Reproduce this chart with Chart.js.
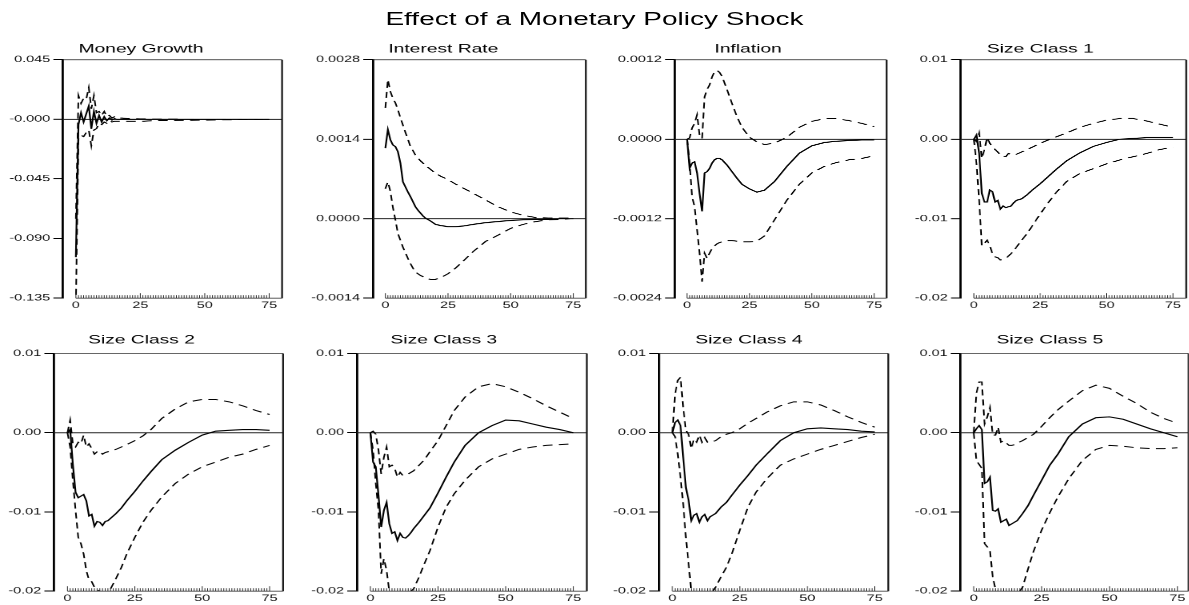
<!DOCTYPE html>
<html>
<head>
<meta charset="utf-8">
<title>Effect of a Monetary Policy Shock</title>
<script src="https://cdn.jsdelivr.net/npm/chart.js@4.4.0/dist/chart.umd.min.js"></script>
<style>
  html, body { margin: 0; padding: 0; background: #fff; overflow: hidden; }
  /* the original figure is stretched sideways, so the whole page is drawn narrow and widened */
  #page { position: absolute; left: 0; top: 0; width: 743.125px; height: 605px;
          transform: scaleX(1.6); transform-origin: 0 0; }
  #mainTitle { position: absolute; left: 0; top: 9px; width: 100%; text-align: center;
               font: 17.5px "Liberation Sans", Arial, sans-serif; line-height: 21px; color: #000; }
  .panel { position: absolute; }
</style>
</head>
<body>
<div id="page"><div id="mainTitle">Effect of a Monetary Policy Shock</div></div>

<script>
// --- horizons (periods after the shock) and x tick labels ---
const horizons = [0,1,2,3,4,5,6,7,8,9,10,11,12,13,14,15,16,18,20,22,25,28,31,35,40,45,50,55,60,65,70,75];
const xTicks = [0, 25, 50, 75];

// --- Money Growth ---
const moneyIrf = [-0.104,-0.004,0.005,-0.002,0.004,0.010,-0.007,0.006,-0.003,0.003,-0.002,0.002,-0.001,0.001,-0.0005,0.0005,
                  0,0,0,0,0,0,0,0,0,0,0,0,0,0,0,0];
const moneyUp  = [-0.075,0.018,0.012,0.016,0.015,0.024,0.008,0.018,0.005,0.006,0.003,0.006,0.002,0.003,0.001,0.002,
                  0.001,0.001,0.0005,0.0005,0.0003,0.0003,0.0002,0.0002,0.0002,0.0001,0.0001,0.0001,0.0001,0,0,0];
const moneyLo  = [-0.14,-0.015,-0.012,-0.013,-0.010,-0.008,-0.020,-0.008,-0.007,-0.003,-0.004,-0.002,-0.003,-0.001,-0.002,-0.0015,
                  -0.0015,-0.0015,-0.0015,-0.0015,-0.0015,-0.0012,-0.001,-0.001,-0.0008,-0.0006,-0.0005,-0.0004,-0.0003,-0.0002,-0.0002,-0.0001];
const moneyTicks = [-0.135, -0.09, -0.045, 0, 0.045];
const moneyTickLabels = ['-0.135', '-0.090', '-0.045', '-0.000', '0.045'];

// --- Interest Rate ---
const rateIrf = [0.00124,0.00157,0.00139,0.0013,0.00127,0.00118,0.00098,0.00065,0.00056,0.00047,0.00039,0.0003,0.00021,0.00015,0.0001,0.00005,
                 0.00001,-0.00004,-0.0001,-0.00012,-0.00014,-0.00014,-0.00013,-0.0001,-0.00007,-0.00005,-0.00003,-0.00002,-0.00001,-0.00001,0,0];
const rateUp  = [0.00195,0.00245,0.00224,0.00212,0.00204,0.00192,0.00178,0.00165,0.00152,0.0014,0.00127,0.0012,0.00112,0.00107,0.00102,0.00098,
                 0.00094,0.00087,0.0008,0.00075,0.00069,0.00061,0.00054,0.00045,0.00033,0.00021,0.00012,0.00006,0.00002,0.00001,0.00001,0.00001];
const rateLo  = [0.00053,0.00065,0.00048,0.0002,-0.00002,-0.00026,-0.00038,-0.0005,-0.0006,-0.0007,-0.00079,-0.00087,-0.00094,-0.00097,-0.001,-0.00102,
                 -0.00105,-0.00107,-0.00107,-0.00104,-0.00097,-0.00087,-0.00075,-0.00058,-0.0004,-0.00029,-0.00017,-0.0001,-0.00005,-0.00002,-0.00001,0];
const rateTicks = [-0.0014, 0, 0.0014, 0.0028];
const rateTickLabels = ['-0.0014', '0.0000', '0.0014', '0.0028'];

// --- Inflation ---
const inflIrf = [0,-0.00044,-0.00036,-0.00034,-0.00051,-0.00082,-0.00109,-0.00051,-0.00049,-0.00044,-0.00036,-0.00031,-0.00029,-0.00029,-0.00031,-0.00035,
                 -0.00039,-0.00049,-0.00059,-0.00068,-0.00075,-0.0008,-0.00077,-0.00064,-0.00041,-0.00021,-0.0001,-0.00005,-0.00003,-0.00002,-0.00001,-0.00001];
const inflUp  = [0,0.00002,0.00017,0.00024,0.00037,0.00006,0.00001,0.00064,0.00075,0.00082,0.00094,0.00102,0.00104,0.00101,0.00095,0.00085,
                 0.00075,0.00054,0.00034,0.00018,0.00003,-0.00004,-0.00008,-0.00006,0.00003,0.00018,0.00027,0.00031,0.00031,0.00028,0.00024,0.00019];
const inflLo  = [0,-0.00036,-0.00087,-0.00102,-0.00137,-0.00172,-0.00215,-0.00172,-0.0018,-0.00172,-0.00165,-0.00161,-0.00158,-0.00156,-0.00155,-0.00154,
                 -0.00153,-0.00153,-0.00154,-0.00155,-0.00155,-0.00154,-0.00146,-0.00122,-0.00092,-0.00068,-0.00051,-0.00041,-0.00035,-0.00031,-0.00029,-0.00025];
const inflTicks = [-0.0024, -0.0012, 0, 0.0012];
const inflTickLabels = ['-0.0024', '-0.0012', '0.0000', '0.0012'];

// --- Size classes 1 to 5 (same y axis) ---
const sizeTicks = [-0.02, -0.01, 0, 0.01];
const sizeTickLabels = ['-0.02', '-0.01', '0.00', '0.01'];

const size1Irf = [0,0.00055,-0.0018,-0.0068,-0.0079,-0.0079,-0.0064,-0.0066,-0.0079,-0.0077,-0.0088,-0.0084,-0.0086,-0.0085,-0.0084,-0.008,
                  -0.0077,-0.0075,-0.007,-0.0064,-0.0056,-0.0047,-0.0038,-0.0027,-0.0017,-0.0009,-0.0004,0,0.0001,0.0002,0.0002,0.0002];
const size1Up  = [0,-0.0003,0.0008,-0.0024,-0.0013,0.0002,-0.0005,-0.001,-0.0013,-0.0016,-0.002,-0.0021,-0.0022,-0.0018,-0.0019,-0.002,
                  -0.0019,-0.0016,-0.0013,-0.001,-0.0005,-0.0001,0.0003,0.0008,0.0015,0.002,0.0024,0.0026,0.0026,0.0023,0.0019,0.0015];
const size1Lo  = [0,-0.0031,-0.0077,-0.0134,-0.0131,-0.0127,-0.0134,-0.0144,-0.0148,-0.0149,-0.0152,-0.0151,-0.015,-0.0147,-0.0144,-0.014,
                  -0.0136,-0.0127,-0.0119,-0.0109,-0.0094,-0.008,-0.0067,-0.0053,-0.0043,-0.0037,-0.0031,-0.0026,-0.0022,-0.0018,-0.0013,-0.001];

const size2Irf = [0,0.0004,-0.004,-0.0075,-0.0082,-0.008,-0.0078,-0.0086,-0.0105,-0.0103,-0.0118,-0.0112,-0.0113,-0.0117,-0.0112,-0.0111,
                  -0.0108,-0.0102,-0.0095,-0.0086,-0.0074,-0.0061,-0.0049,-0.0034,-0.0022,-0.0012,-0.0003,0.0002,0.0003,0.0004,0.0004,0.0003];
const size2Up  = [0,0.0016,-0.0014,-0.0018,-0.0012,-0.0014,-0.0003,-0.0018,-0.0014,-0.002,-0.0027,-0.0024,-0.0023,-0.0027,-0.0025,-0.0024,
                  -0.0023,-0.0021,-0.0018,-0.0015,-0.001,-0.0004,0.0004,0.0018,0.003,0.0039,0.0042,0.0042,0.0039,0.0034,0.0028,0.0023];
const size2Lo  = [0,-0.0018,-0.006,-0.0098,-0.0132,-0.014,-0.0153,-0.0174,-0.0186,-0.0188,-0.0195,-0.0198,-0.02,-0.0201,-0.0201,-0.02,
                  -0.0197,-0.0184,-0.017,-0.0153,-0.0132,-0.0113,-0.0098,-0.0081,-0.0064,-0.0052,-0.0043,-0.0037,-0.0031,-0.0027,-0.0021,-0.0016];

const size3Irf = [0,-0.0037,-0.0043,-0.0079,-0.0119,-0.0098,-0.0088,-0.0115,-0.0127,-0.0125,-0.0136,-0.0127,-0.0132,-0.0133,-0.013,-0.0126,
                  -0.0121,-0.0113,-0.0104,-0.0095,-0.0076,-0.0056,-0.0037,-0.0016,0,0.0009,0.0016,0.0015,0.0011,0.0007,0.0004,0];
const size3Up  = [0,0.0002,-0.0002,-0.0022,-0.0052,-0.0031,-0.0018,-0.0043,-0.0041,-0.0045,-0.0056,-0.005,-0.0054,-0.0053,-0.0052,-0.005,
                  -0.0048,-0.0041,-0.0034,-0.0024,-0.001,0.0009,0.0028,0.0045,0.0058,0.0062,0.0058,0.0051,0.0043,0.0034,0.0026,0.0018];
const size3Lo  = [0,-0.0022,-0.0064,-0.0098,-0.0178,-0.0159,-0.0174,-0.02,-0.0203,-0.0207,-0.021,-0.021,-0.021,-0.0207,-0.0203,-0.02,
                  -0.0197,-0.0182,-0.0165,-0.0149,-0.0119,-0.0094,-0.0077,-0.006,-0.0043,-0.0033,-0.0027,-0.0021,-0.0018,-0.0016,-0.0015,-0.0014];

const size4Irf = [0,0.0013,0.0016,0.0009,-0.0031,-0.0069,-0.0085,-0.0111,-0.0104,-0.0102,-0.0113,-0.0106,-0.0103,-0.0111,-0.0106,-0.0104,
                  -0.0102,-0.0094,-0.0088,-0.0079,-0.0066,-0.0054,-0.0041,-0.0027,-0.001,0,0.0005,0.0006,0.0005,0.0004,0.0002,0.0001];
const size4Up  = [0,0.0049,0.0066,0.007,0.0032,0.0003,-0.0002,-0.002,-0.0008,-0.0012,-0.0003,-0.0012,-0.0006,-0.0012,-0.0011,-0.0011,
                  -0.001,-0.0005,-0.0002,0,0.0005,0.0012,0.0018,0.0026,0.0034,0.0039,0.0039,0.0035,0.0028,0.002,0.0013,0.0007];
const size4Lo  = [0,-0.0005,-0.0027,-0.0056,-0.009,-0.0132,-0.0165,-0.02,-0.0207,-0.0209,-0.021,-0.0209,-0.0207,-0.0205,-0.0203,-0.02,
                  -0.0195,-0.0182,-0.017,-0.0153,-0.0123,-0.0094,-0.0075,-0.0058,-0.0041,-0.0033,-0.0027,-0.0021,-0.0016,-0.0011,-0.0006,-0.0002];

const size5Irf = [0,0.0005,0.0009,0.0004,-0.0064,-0.0062,-0.0056,-0.0098,-0.0099,-0.0096,-0.0113,-0.0111,-0.0109,-0.0117,-0.0115,-0.0113,
                  -0.0111,-0.0102,-0.0092,-0.0079,-0.006,-0.0041,-0.0027,-0.0005,0.0011,0.0019,0.002,0.0017,0.0011,0.0005,0,-0.0005];
const size5Up  = [0,0.005,0.0064,0.0064,0.0011,0.002,0.0032,-0.0003,-0.0003,0.0007,-0.0012,-0.001,-0.0013,-0.0016,-0.0016,-0.0015,
                  -0.0013,-0.001,-0.0006,-0.0002,0.0008,0.0019,0.0029,0.004,0.0053,0.006,0.0056,0.0046,0.0037,0.0026,0.0018,0.0012];
const size5Lo  = [0,-0.0035,-0.004,-0.0045,-0.014,-0.0144,-0.0149,-0.0182,-0.0197,-0.0201,-0.0205,-0.0207,-0.0207,-0.0207,-0.0207,-0.0206,
                  -0.0205,-0.0195,-0.0172,-0.015,-0.0123,-0.0101,-0.0081,-0.0058,-0.0035,-0.0021,-0.0016,-0.0017,-0.0019,-0.002,-0.002,-0.0019];

// --- panels: data, then where each one sits on the page (page pixels) ---
const panels = [
  { title: 'Money Growth',  irf: moneyIrf, up: moneyUp, lo: moneyLo, ticks: moneyTicks, labels: moneyTickLabels },
  { title: 'Interest Rate', irf: rateIrf,  up: rateUp,  lo: rateLo,  ticks: rateTicks,  labels: rateTickLabels },
  { title: 'Inflation',     irf: inflIrf,  up: inflUp,  lo: inflLo,  ticks: inflTicks,  labels: inflTickLabels },
  { title: 'Size Class 1',  irf: size1Irf, up: size1Up, lo: size1Lo, ticks: sizeTicks,  labels: sizeTickLabels },
  { title: 'Size Class 2',  irf: size2Irf, up: size2Up, lo: size2Lo, ticks: sizeTicks,  labels: sizeTickLabels },
  { title: 'Size Class 3',  irf: size3Irf, up: size3Up, lo: size3Lo, ticks: sizeTicks,  labels: sizeTickLabels },
  { title: 'Size Class 4',  irf: size4Irf, up: size4Up, lo: size4Lo, ticks: sizeTicks,  labels: sizeTickLabels },
  { title: 'Size Class 5',  irf: size5Irf, up: size5Up, lo: size5Lo, ticks: sizeTicks,  labels: sizeTickLabels }
];

// cl/cr = canvas edges, pl/pr = plot edges, tc = title centre, pt/pb = plot top/bottom
const boxes = [
  { cl: 0,   cr: 290,  pl: 63,  pr: 282,  tc: 49.5, pt: 60,    pb: 298 },
  { cl: 300, cr: 596,  pl: 372, pr: 585,  tc: 49.5, pt: 60,    pb: 298 },
  { cl: 610, cr: 890,  pl: 675, pr: 887,  tc: 49.5, pt: 60,    pb: 298 },
  { cl: 895, cr: 1187, pl: 961, pr: 1186, tc: 49.5, pt: 60,    pb: 298 },
  { cl: 0,   cr: 290,  pl: 54,  pr: 283,  tc: 340,  pt: 353.3, pb: 591 },
  { cl: 300, cr: 596,  pl: 356, pr: 586,  tc: 340,  pt: 353.3, pb: 591 },
  { cl: 610, cr: 892,  pl: 659, pr: 887,  tc: 340,  pt: 353.3, pb: 591 },
  { cl: 910, cr: 1189, pl: 960, pr: 1189, tc: 340,  pt: 353.3, pb: 591, xMin: -4.9, xMax: 79.1 }
];

const STRETCH = 1.6;
const FONT = '"Liberation Sans", Arial, sans-serif';
const X_AXIS_H = 16;
const TITLE_SIZE = 12;

Chart.defaults.font.family = FONT;
Chart.defaults.color = '#000';
Chart.defaults.animation = false;

// zero line, outer frame and the comb of small x ticks
const framePlugin = {
  id: 'frame',
  beforeDatasetsDraw(chart) {
    const { ctx, chartArea: a, scales: { y } } = chart;
    const y0 = y.getPixelForValue(0);
    ctx.save();
    ctx.strokeStyle = '#222';
    ctx.lineWidth = 1;
    ctx.beginPath();
    ctx.moveTo(a.left, y0);
    ctx.lineTo(a.right, y0);
    ctx.stroke();
    ctx.restore();
  },
  afterDatasetsDraw(chart) {
    const { ctx, chartArea: a, scales: { x } } = chart;
    ctx.save();
    // top
    ctx.strokeStyle = '#333';
    ctx.lineWidth = 0.8;
    ctx.beginPath();
    ctx.moveTo(a.left, a.top);
    ctx.lineTo(a.right, a.top);
    ctx.stroke();
    // right
    ctx.strokeStyle = '#111';
    ctx.lineWidth = 1.1;
    ctx.beginPath();
    ctx.moveTo(a.right, a.top);
    ctx.lineTo(a.right, a.bottom);
    ctx.stroke();
    // bottom, starting at the first x tick
    const first = xTicks[0], last = xTicks[xTicks.length - 1];
    ctx.strokeStyle = '#444';
    ctx.lineWidth = 0.8;
    ctx.beginPath();
    ctx.moveTo(x.getPixelForValue(first), a.bottom);
    ctx.lineTo(a.right, a.bottom);
    ctx.stroke();
    // inward minor ticks, one per period
    ctx.strokeStyle = '#222';
    ctx.lineWidth = 0.5;
    ctx.beginPath();
    for (let h = first; h <= last; h++) {
      const px = x.getPixelForValue(h);
      const len = xTicks.includes(h) ? 5 : 3;
      ctx.moveTo(px, a.bottom);
      ctx.lineTo(px, a.bottom - len);
    }
    ctx.stroke();
    ctx.restore();
  }
};

const toPoints = vals => vals.map((v, i) => ({ x: horizons[i], y: v }));

const page = document.getElementById('page');

panels.forEach((p, i) => {
  const box = boxes[i];
  const titleLine = TITLE_SIZE * 1.2;
  const padTop = 4;
  const top = box.tc - padTop - titleLine / 2;
  const padBottom = box.pt - top - padTop - titleLine;

  const holder = document.createElement('div');
  holder.className = 'panel';
  holder.style.left = (box.cl / STRETCH) + 'px';
  holder.style.top = top + 'px';
  holder.style.width = ((box.cr - box.cl) / STRETCH) + 'px';
  holder.style.height = (box.pb - top + X_AXIS_H) + 'px';
  const canvas = document.createElement('canvas');
  holder.appendChild(canvas);
  page.appendChild(holder);

  const yAxisWidth = (box.pl - box.cl) / STRETCH;

  new Chart(canvas, {
    type: 'line',
    data: {
      datasets: [
        { data: toPoints(p.up), borderColor: '#000', borderWidth: 1, borderDash: [6, 4] },
        { data: toPoints(p.lo), borderColor: '#000', borderWidth: 1, borderDash: [6, 4] },
        { data: toPoints(p.irf), borderColor: '#000', borderWidth: 1.1 }
      ]
    },
    options: {
      responsive: true,
      maintainAspectRatio: false,
      devicePixelRatio: 2,
      events: [],
      elements: { point: { radius: 0 }, line: { tension: 0 } },
      layout: { padding: { left: 0, right: (box.cr - box.pr) / STRETCH, top: 0, bottom: 0 } },
      plugins: {
        legend: { display: false },
        tooltip: { enabled: false },
        title: {
          display: true,
          text: p.title,
          color: '#000',
          font: { size: TITLE_SIZE, weight: 'normal', family: FONT, lineHeight: 1.2 },
          padding: { top: padTop, bottom: padBottom }
        }
      },
      scales: {
        x: {
          type: 'linear',
          min: box.xMin ?? -5,
          max: box.xMax ?? 80,
          afterBuildTicks: s => { s.ticks = xTicks.map(v => ({ value: v })); },
          afterFit: s => { s.height = X_AXIS_H; },
          grid: { display: false, drawTicks: false },
          border: { display: false },
          ticks: { font: { size: 9 }, color: '#111', padding: 2, maxRotation: 0, autoSkip: false,
                   callback: v => String(v) }
        },
        y: {
          min: p.ticks[0],
          max: p.ticks[p.ticks.length - 1],
          afterBuildTicks: s => { s.ticks = p.ticks.map(v => ({ value: v })); },
          afterFit: s => { s.width = yAxisWidth; },
          grid: { drawOnChartArea: false, drawTicks: true, tickLength: 6, color: '#000', lineWidth: 1 },
          border: { display: true, color: '#000', width: 1.4 },
          ticks: { font: { size: 9 }, color: '#111', padding: 2, autoSkip: false,
                   callback: (v, idx) => p.labels[idx] }
        }
      }
    },
    plugins: [framePlugin]
  });
});
</script>
</body>
</html>
